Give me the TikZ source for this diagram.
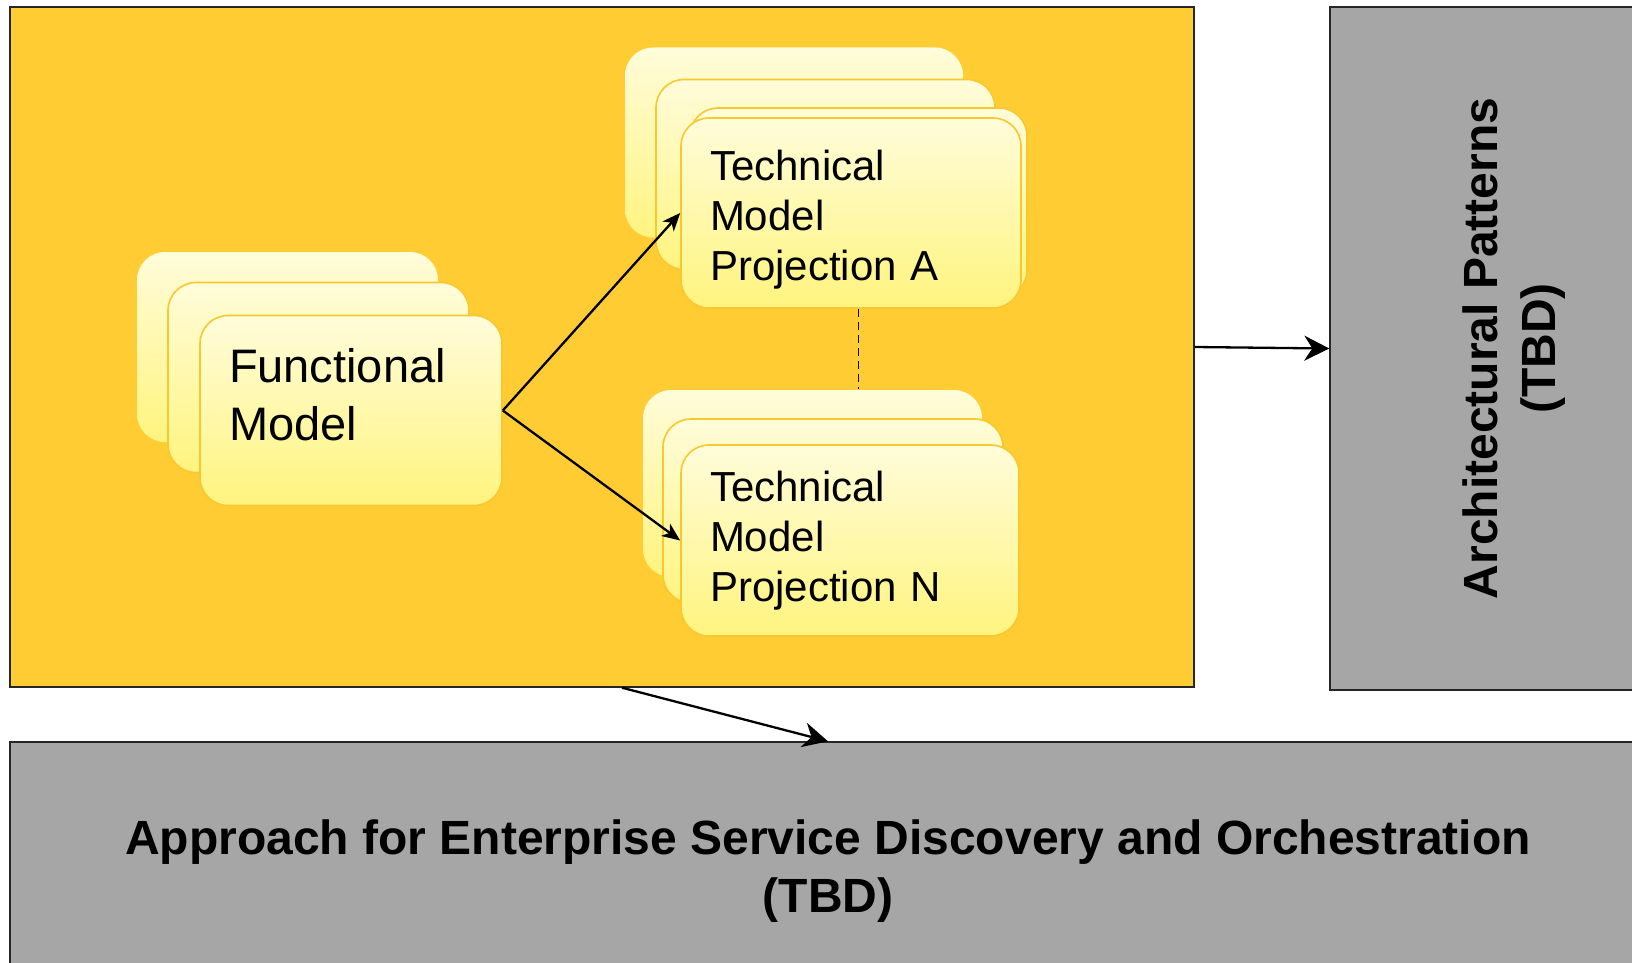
\documentclass[tikz,border=0pt]{standalone}
\usepackage{fontspec}
\setmainfont{Liberation Sans}
\usepackage{tikz}
\usetikzlibrary{arrows.meta, positioning}
\definecolor{framefill}{HTML}{FFCD33}
\definecolor{greyfill}{HTML}{A6A6A6}
\definecolor{cardtop}{HTML}{FFFCDA}
\definecolor{cardbot}{HTML}{FFF47E}
\definecolor{cardline}{HTML}{F9C82E}
\tikzstyle{card} = [rectangle, rounded corners=28pt, top color=cardtop, bottom color=cardbot, draw=cardline, line width=1.6pt, minimum height=190pt, inner xsep=29pt, inner ysep=0pt, align=left]
\tikzstyle{backcard} = [card, draw=none]
\tikzstyle{tbd} = [rectangle, draw=black!85, fill=greyfill, line width=1.4pt, font=\bfseries\fontsize{48}{58}\selectfont, align=center, inner sep=0pt]
\tikzstyle{arrow} = [line width=2.3pt, -{Stealth[length=18pt,width=15pt,inset=5pt]}]
\tikzstyle{bigarrow} = [line width=2.3pt, -{Stealth[length=25pt,width=25pt,inset=8pt]}]

\begin{document}
\begin{tikzpicture}[x=1pt, y=-1pt]
    \useasboundingbox (0,0) rectangle (1632,963);
    % frame and the two TBD blocks
    \node (frame) [rectangle, draw=black!85, fill=framefill, line width=1.4pt, minimum width=1184pt, minimum height=680pt, inner sep=0pt] at (602,347) {};
    \node (arch) [tbd, minimum width=370pt, minimum height=683pt] at (1515,348.5) {\rotatebox{90}{\begin{tabular}{c}Architectural Patterns\\(TBD)\end{tabular}}};
    \node (esdo) [tbd, minimum width=1636pt, minimum height=258pt] at (828,871) {Approach for Enterprise Service Discovery and Orchestration\\(TBD)};

    % functional model stack
    \node (fmb) [backcard, text width=243pt] at (287.5,347) {};
    \node (fmm) [card, text width=243pt] at (318.5,377.5) {};
    \node (fm) [card, text width=244pt, font=\fontsize{47}{58}\selectfont, text depth=90pt] at (351,410.5) {Functional\\Model};

    % technical model projection A stack
    \node (tAb) [backcard, text width=280pt] at (794,142.5) {};
    \node (tAm) [card, text width=281pt] at (825.5,174.5) {};
    \node (tAc) [card, text width=279pt] at (858.5,203) {};
    \node (tA) [card, text width=282pt, font=\fontsize{42}{50}\selectfont, text depth=96pt] at (851,213) {Technical\\Model\\Projection A};

    % technical model projection N stack
    \node (tNb) [backcard, text width=281pt, minimum height=187pt] at (812.5,483.5) {};
    \node (tNm) [card, text width=282pt, minimum height=184pt] at (833,511) {};
    \node (tN) [card, text width=280pt, minimum height=191pt, font=\fontsize{42}{50}\selectfont] at (850,540.5) {Technical\\Model\\Projection N};

    \coordinate (fout) at ([xshift=20pt]frame.south);

    \path[arrow] (fm.east) edge (tA.west)
                 (fm.east) edge (tN.west);
    \path[bigarrow] (frame.east) edge (arch.west)
                    (fout) edge (esdo.north);
    \draw[line width=1.8pt, dash pattern=on 8pt off 5pt] (tAc.south |- tA.south) -- (tAc.south |- tNb.north);
\end{tikzpicture}
\end{document}
